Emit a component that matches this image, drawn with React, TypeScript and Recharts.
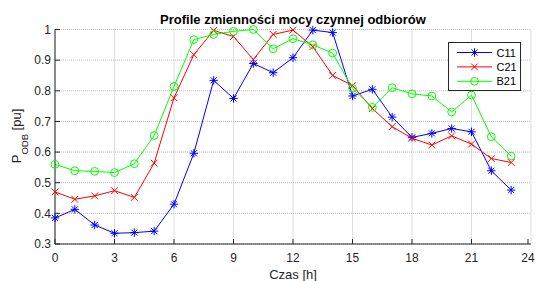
import React from "react"
import { LineChart, Line, XAxis, YAxis, CartesianGrid, Legend } from "recharts"

const hours = [0, 1, 2, 3, 4, 5, 6, 7, 8, 9, 10, 11, 12, 13, 14, 15, 16, 17, 18, 19, 20, 21, 22, 23]
const c11 = [0.385, 0.413, 0.362, 0.335, 0.337, 0.342, 0.43, 0.596, 0.834, 0.775, 0.889, 0.859, 0.908, 0.998, 0.99, 0.783, 0.805, 0.714, 0.648, 0.661, 0.677, 0.666, 0.539, 0.476]
const c21 = [0.47, 0.446, 0.457, 0.474, 0.452, 0.564, 0.777, 0.918, 0.997, 0.977, 0.902, 0.984, 0.998, 0.944, 0.85, 0.817, 0.742, 0.683, 0.645, 0.623, 0.653, 0.626, 0.579, 0.566]
const b21 = [0.56, 0.539, 0.537, 0.533, 0.562, 0.654, 0.814, 0.967, 0.984, 0.994, 1.0, 0.937, 0.97, 0.95, 0.923, 0.808, 0.746, 0.81, 0.79, 0.783, 0.731, 0.786, 0.65, 0.587]

const xTicks = [0, 3, 6, 9, 12, 15, 18, 21, 24]
const yTicks = [0.3, 0.4, 0.5, 0.6, 0.7, 0.8, 0.9, 1]

const series = [
  { key: "c11", name: "C11", color: "#0000ff", marker: "star" },
  { key: "c21", name: "C21", color: "#ff0000", marker: "cross" },
  { key: "b21", name: "B21", color: "#00ff00", marker: "circle" },
]

const data = hours.map((h, i) => ({ h, c11: c11[i], c21: c21[i], b21: b21[i] }))

const FONT = "'Liberation Sans', Arial, Helvetica, sans-serif"
const AXIS = "#262626"

function Marker({ kind, cx, cy, color }: { kind: string; cx: number; cy: number; color: string }) {
  if (kind === "star") {
    const r = 4.2
    const d = r * 0.72
    return (
      <g stroke={color} strokeWidth={1} fill="none">
        <line x1={cx - r} y1={cy} x2={cx + r} y2={cy} />
        <line x1={cx} y1={cy - r} x2={cx} y2={cy + r} />
        <line x1={cx - d} y1={cy - d} x2={cx + d} y2={cy + d} />
        <line x1={cx - d} y1={cy + d} x2={cx + d} y2={cy - d} />
      </g>
    )
  }
  if (kind === "cross") {
    const d = 3.4
    return (
      <g stroke={color} strokeWidth={1} fill="none">
        <line x1={cx - d} y1={cy - d} x2={cx + d} y2={cy + d} />
        <line x1={cx - d} y1={cy + d} x2={cx + d} y2={cy - d} />
      </g>
    )
  }
  return <circle cx={cx} cy={cy} r={3.9} stroke={color} strokeWidth={1} fill="none" />
}

const BottomTick = ({ x, y, payload }: any) => (
  <g>
    <line x1={x} y1={y} x2={x} y2={y - 5} stroke={AXIS} />
    <text x={x} y={y + 18} textAnchor="middle" fill={AXIS} fontSize={12} fontFamily={FONT}>
      {payload.value}
    </text>
  </g>
)

const TopTick = ({ x, y }: any) => <line x1={x} y1={y} x2={x} y2={y + 5} stroke={AXIS} />

const LeftTick = ({ x, y, payload }: any) => (
  <g>
    <line x1={x} y1={y} x2={x + 5} y2={y} stroke={AXIS} />
    <text x={x - 4} y={y + 4.3} textAnchor="end" fill={AXIS} fontSize={12} fontFamily={FONT}>
      {payload.value}
    </text>
  </g>
)

const RightTick = ({ x, y }: any) => <line x1={x} y1={y} x2={x - 5} y2={y} stroke={AXIS} />

const LegendBox = () => (
  <div
    style={{
      width: 71,
      height: 47,
      border: `1px solid ${AXIS}`,
      background: "#fff",
      fontFamily: FONT,
      color: "#000",
    }}
  >
    <svg width={71} height={47} style={{ display: "block" }}>
      {series.map((s, i) => {
        const cy = 9.5 + i * 14.4
        return (
          <g key={s.key}>
            <line x1={8} y1={cy} x2={43} y2={cy} stroke={s.color} strokeWidth={1} />
            <Marker kind={s.marker} cx={25.5} cy={cy} color={s.color} />
            <text x={47.5} y={cy + 4} fontSize={11} fontFamily={FONT} fill="#000">
              {s.name}
            </text>
          </g>
        )
      })}
    </svg>
  </div>
)

export default function App() {
  return (
    <div style={{ position: "absolute", left: 0, top: 0, width: 536, height: 281, background: "#fff" }}>
      <div
        style={{
          position: "absolute",
          left: 55,
          width: 476,
          top: 12,
          textAlign: "center",
          fontFamily: FONT,
          fontWeight: "bold",
          fontSize: 13,
          lineHeight: "15px",
          color: "#000",
        }}
      >
        Profile zmienności mocy czynnej odbiorów
      </div>
      <LineChart width={536} height={281} data={data} margin={{ top: 29.5, right: 5, left: 10, bottom: 7 }}>
        <CartesianGrid stroke="#bdbdbd" strokeDasharray="1 1" />
        <XAxis
          dataKey="h"
          type="number"
          domain={[0, 24]}
          ticks={xTicks}
          height={30}
          tickSize={0}
          tickMargin={0}
          tickLine={false}
          axisLine={{ stroke: AXIS }}
          tick={<BottomTick />}
          label={{
            content: () => (
              <text x={293} y={278.5} textAnchor="middle" fill={AXIS} fontSize={13} fontFamily={FONT}>
                Czas [h]
              </text>
            ),
          }}
        />
        <XAxis
          xAxisId="top"
          orientation="top"
          type="number"
          domain={[0, 24]}
          ticks={xTicks}
          height={0}
          tickSize={0}
          tickMargin={0}
          tickLine={false}
          axisLine={{ stroke: AXIS }}
          tick={<TopTick />}
        />
        <YAxis
          type="number"
          domain={[0.3, 1]}
          ticks={yTicks}
          width={45}
          tickSize={0}
          tickMargin={0}
          tickLine={false}
          axisLine={{ stroke: AXIS }}
          tick={<LeftTick />}
          label={{
            content: () => (
              <text
                x={21}
                y={136}
                transform="rotate(-90, 21, 136)"
                textAnchor="middle"
                fill={AXIS}
                fontSize={13}
                fontFamily={FONT}
              >
                P
                <tspan fontSize={9.5} dy={6.5}>
                  ODB
                </tspan>
                <tspan dy={-6.5}> [pu]</tspan>
              </text>
            ),
          }}
        />
        <YAxis
          yAxisId="right"
          orientation="right"
          type="number"
          domain={[0.3, 1]}
          ticks={yTicks}
          width={0}
          tickSize={0}
          tickMargin={0}
          tickLine={false}
          axisLine={{ stroke: AXIS }}
          tick={<RightTick />}
        />
        {series.map((s) => (
          <Line
            key={s.key}
            dataKey={s.key}
            name={s.name}
            stroke={s.color}
            strokeWidth={1}
            isAnimationActive={false}
            dot={(p: any) => <Marker key={`${s.key}-${p.index}`} kind={s.marker} cx={p.cx} cy={p.cy} color={s.color} />}
            activeDot={false}
          />
        ))}
        <Legend
          layout="vertical"
          align="center"
          verticalAlign="middle"
          content={<LegendBox />}
          wrapperStyle={{ position: "absolute", left: 448, top: 42, width: 73, height: 49 }}
        />
      </LineChart>
    </div>
  )
}
